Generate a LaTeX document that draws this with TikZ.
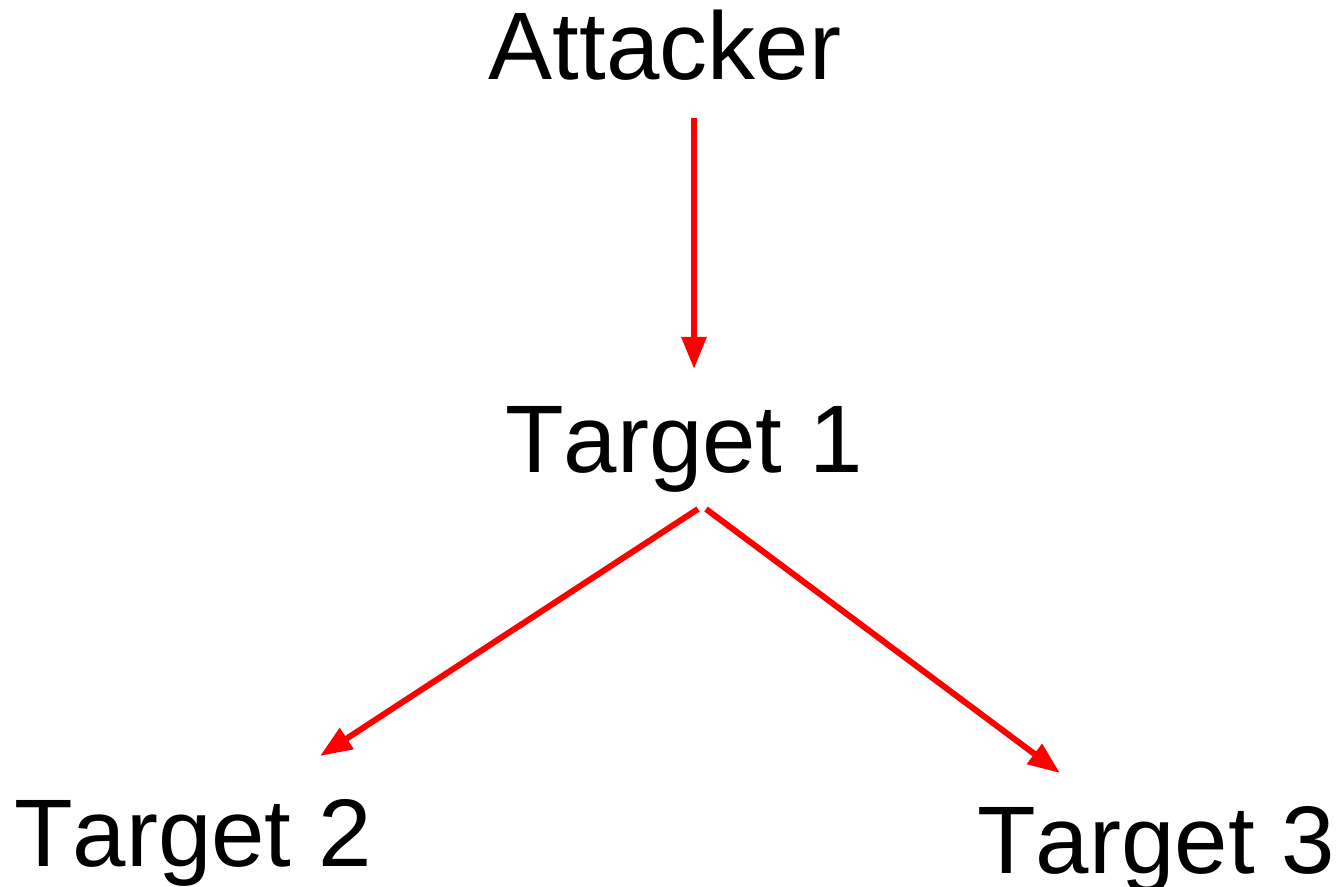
\documentclass[tikz,border=0pt]{standalone}
\usepackage{fontspec}
\setmainfont[Kerning=Off]{Liberation Sans}
\newfontfamily\kernfont{Liberation Sans}
\usetikzlibrary{arrows.meta}
\begin{document}
\begin{tikzpicture}[x=0.5pt,y=-0.5pt,
  lbl/.style={anchor=base,inner sep=0pt,font=\fontsize{48pt}{58pt}\selectfont},
  arr/.style={draw=red,line width=3pt,-{Triangle[width=12pt,length=16pt]}}]
\useasboundingbox (0,0) rectangle (1340,887);
\node[lbl,font=\kernfont\fontsize{48pt}{58pt}\selectfont] (att) at (665,80) {Attacker};
\node[lbl] (t1) at (684,473) {Target 1};
\node[lbl] (t2) at (193,866) {Target 2};
\node[lbl] (t3) at (1156,873) {Target 3};
\coordinate (a0) at (694,118);
\coordinate (a1) at (694,369);
\coordinate (b0) at (698,509);
\coordinate (b1) at (320,756);
\coordinate (c0) at (706,509);
\coordinate (c1) at (1060,773);
\draw[arr] (a0) -- (a1);
\draw[arr] (b0) -- (b1);
\draw[arr] (c0) -- (c1);
\end{tikzpicture}
\end{document}
